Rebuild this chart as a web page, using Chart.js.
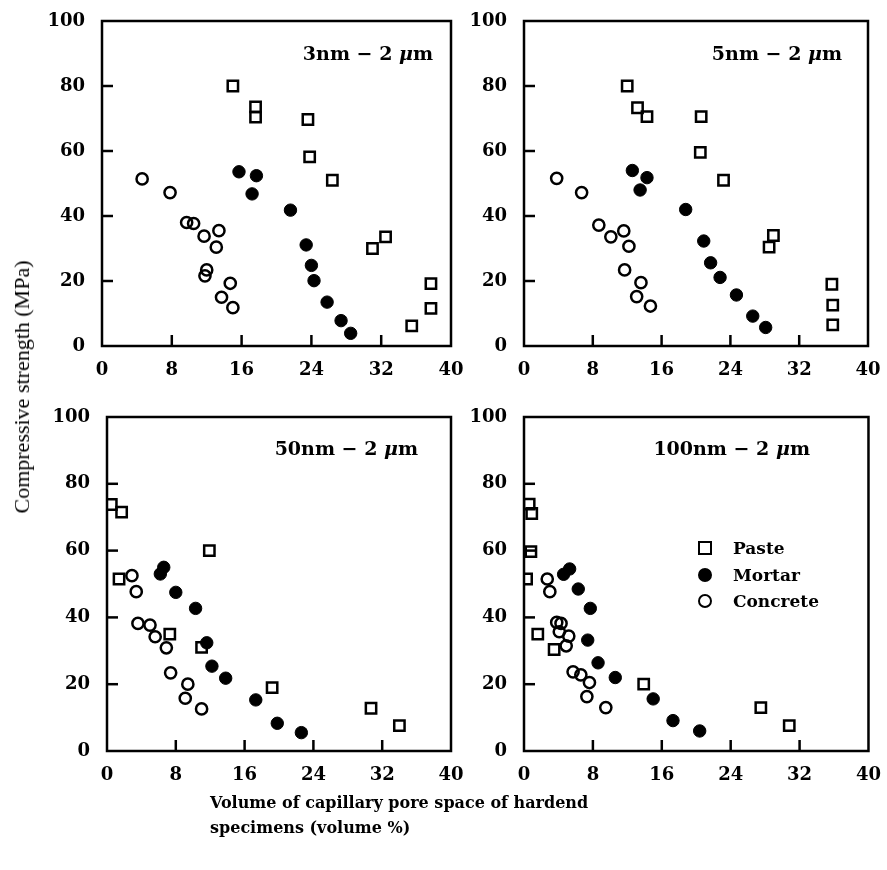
<!DOCTYPE html>
<html>
<head>
<meta charset="utf-8">
<script src="https://cdn.jsdelivr.net/npm/chart.js@4.4.0/dist/chart.umd.min.js"></script>
<style>
  body { margin: 0; background: #fff; }
  #wrap { position: relative; width: 887px; height: 870px; background: #fff; overflow: hidden; }
  canvas { position: absolute; }
  .ttl { position: absolute; font-family: "DejaVu Serif", serif; font-weight: bold; font-size: 19px; color: #000; white-space: nowrap; text-align: right; line-height: 20px; }
  .ttl i { font-style: italic; }
  #ytitle { position: absolute; left: 22px; top: 387px; transform: translate(-50%, -50%) rotate(-90deg); font-family: "Liberation Serif", serif; font-size: 22px; white-space: nowrap; color: #000; }
  #xtitle { position: absolute; left: 210px; top: 790px; font-family: "DejaVu Serif", serif; font-weight: bold; font-size: 16px; line-height: 25px; color: #000; }
  #legend { position: absolute; left: 696px; top: 535px; font-family: "DejaVu Serif", serif; font-weight: bold; font-size: 17px; color: #000; }
  #legend div { height: 26.5px; line-height: 26px; position: relative; padding-left: 37px; }
  #legend span.m { position: absolute; left: 2px; top: 6px; width: 10px; height: 10px; border: 2.5px solid #000; }
  #legend span.m.c { border-radius: 50%; }
  #legend span.m.f { background: #000; }
</style>
</head>
<body>
<div id="wrap">
  <canvas id="c1" width="470" height="400" style="left:0;top:0"></canvas>
  <canvas id="c2" width="420" height="400" style="left:470px;top:0"></canvas>
  <canvas id="c3" width="470" height="400" style="left:0;top:396px"></canvas>
  <canvas id="c4" width="417" height="400" style="left:470px;top:396px"></canvas>
  <div class="ttl" style="left:233px;top:43px;width:200px">3nm − 2 <i>μ</i>m</div>
  <div class="ttl" style="left:642px;top:43px;width:200px">5nm − 2 <i>μ</i>m</div>
  <div class="ttl" style="left:218px;top:438px;width:200px">50nm − 2 <i>μ</i>m</div>
  <div class="ttl" style="left:610px;top:438px;width:200px">100nm − 2 <i>μ</i>m</div>
  <div id="ytitle">Compressive strength (MPa)</div>
  <div id="xtitle">Volume of capillary pore space of hardend<br>specimens (volume %)</div>
  <div id="legend"></div>
</div>
<script>
// tick labels
var xTicks = [0, 8, 16, 24, 32, 40];
var yTicks = [0, 20, 40, 60, 80, 100];
var seriesNames = ['Paste', 'Mortar', 'Concrete'];

// 3nm - 2um  [pore volume %, strength MPa]
var paste3 = [[15,80],[17.6,73.6],[17.6,70.4],[23.6,69.7],[23.8,58.2],[26.4,51],[31,30],[32.5,33.6],[35.5,6.2],[37.7,19.2],[37.7,11.6]];
var mortar3 = [[15.7,53.6],[17.7,52.4],[17.2,46.8],[21.6,41.8],[23.4,31.1],[24,24.8],[24.3,20.1],[25.8,13.5],[27.4,7.8],[28.5,3.9]];
var concrete3 = [[4.6,51.4],[7.8,47.2],[9.7,38],[10.5,37.7],[11.7,33.8],[13.4,35.5],[13.1,30.4],[12,23.4],[11.8,21.6],[14.7,19.3],[13.7,15],[15,11.8]];

// 5nm - 2um
var paste5 = [[12,80],[13.2,73.3],[14.3,70.6],[20.6,70.6],[20.5,59.6],[23.2,51],[28.5,30.4],[29,34],[35.8,19],[35.9,12.6],[35.9,6.5]];
var mortar5 = [[12.6,54],[14.3,51.8],[13.5,48],[18.8,42],[20.9,32.3],[21.7,25.6],[22.8,21.1],[24.7,15.7],[26.6,9.2],[28.1,5.7]];
var concrete5 = [[3.8,51.6],[6.7,47.2],[8.7,37.2],[10.1,33.6],[11.6,35.4],[12.2,30.7],[11.7,23.4],[13.6,19.5],[13.1,15.2],[14.7,12.3]];

// 50nm - 2um
var paste50 = [[0.5,73.8],[1.7,71.5],[11.9,60],[1.4,51.5],[7.3,35],[11,31],[19.2,19],[30.7,12.8],[34,7.6]];
var mortar50 = [[6.6,55],[6.2,53],[8,47.5],[10.3,42.7],[11.6,32.4],[12.2,25.4],[13.8,21.8],[17.3,15.3],[19.8,8.3],[22.6,5.5]];
var concrete50 = [[2.9,52.5],[3.4,47.7],[3.6,38.2],[5,37.7],[5.6,34.2],[6.9,30.9],[7.4,23.4],[9.4,20],[9.1,15.8],[11,12.6]];

// 100nm - 2um
var paste100 = [[0.6,73.9],[0.9,71.1],[0.8,59.7],[0.3,51.5],[1.6,35],[3.5,30.4],[13.9,20],[27.5,13],[30.8,7.6]];
var mortar100 = [[4.6,52.9],[5.3,54.5],[6.3,48.5],[7.7,42.7],[7.4,33.2],[8.6,26.4],[10.6,22],[15,15.6],[17.3,9.1],[20.4,6]];
var concrete100 = [[2.7,51.5],[3,47.7],[3.8,38.5],[4.3,38.2],[4.1,35.7],[5.2,34.4],[4.9,31.5],[5.7,23.7],[6.6,22.8],[7.6,20.5],[7.3,16.3],[9.5,13]];

var tickFont = { family: 'DejaVu Serif', size: 18, weight: 'bold' };

// caixa e marcas de escala para dentro
var framePlugin = {
  id: 'frame',
  afterDraw: function (chart) {
    var ctx = chart.ctx, a = chart.chartArea;
    var sx = chart.scales.x, sy = chart.scales.y;
    ctx.save();
    ctx.strokeStyle = '#000';
    ctx.lineWidth = 2.5;
    ctx.strokeRect(a.left, a.top, a.right - a.left, a.bottom - a.top);
    sx.ticks.forEach(function (t) {
      if (t.value <= sx.min || t.value >= sx.max) return;
      var px = sx.getPixelForValue(t.value);
      ctx.beginPath(); ctx.moveTo(px, a.bottom); ctx.lineTo(px, a.bottom - 11); ctx.stroke();
    });
    sy.ticks.forEach(function (t) {
      if (t.value <= sy.min || t.value >= sy.max) return;
      var py = sy.getPixelForValue(t.value);
      ctx.beginPath(); ctx.moveTo(a.left, py); ctx.lineTo(a.left + 11, py); ctx.stroke();
    });
    ctx.restore();
  }
};

function pts(arr) {
  return arr.map(function (p) { return { x: p[0], y: p[1] }; });
}

function desenharPainel(id, paste, mortar, concrete, box) {
  // box: area do grafico dentro do canvas
  var cv = document.getElementById(id);
  new Chart(cv, {
    type: 'scatter',
    data: {
      datasets: [
        { label: seriesNames[0], data: pts(paste), pointStyle: 'rect', pointRadius: 7.3, borderWidth: 2.5, borderColor: '#000', backgroundColor: 'rgba(0,0,0,0)' },
        { label: seriesNames[1], data: pts(mortar), pointStyle: 'circle', pointRadius: 6.2, borderWidth: 1, borderColor: '#000', backgroundColor: '#000' },
        { label: seriesNames[2], data: pts(concrete), pointStyle: 'circle', pointRadius: 5.6, borderWidth: 2.5, borderColor: '#000', backgroundColor: 'rgba(0,0,0,0)' }
      ]
    },
    options: {
      responsive: false,
      animation: false,
      events: [],
      layout: { padding: { top: box.top, right: cv.width - box.right, left: 0, bottom: 0 } },
      plugins: { legend: { display: false }, tooltip: { enabled: false } },
      scales: {
        x: {
          type: 'linear', min: xTicks[0], max: xTicks[xTicks.length - 1],
          afterBuildTicks: function (s) { s.ticks = xTicks.map(function (v) { return { value: v }; }); },
          ticks: { font: tickFont, color: '#000', padding: 6, autoSkip: false, maxRotation: 0 },
          grid: { display: false },
          border: { display: false },
          afterFit: function (s) { s.height = cv.height - box.bottom; }
        },
        y: {
          type: 'linear', min: yTicks[0], max: yTicks[yTicks.length - 1],
          afterBuildTicks: function (s) { s.ticks = yTicks.map(function (v) { return { value: v }; }); },
          ticks: { font: tickFont, color: '#000', padding: 9 },
          grid: { display: false },
          border: { display: false },
          afterFit: function (s) { s.width = box.left; }
        }
      }
    },
    plugins: [framePlugin]
  });
}

desenharPainel('c1', paste3, mortar3, concrete3, { left: 102, right: 451, top: 21, bottom: 346 });
desenharPainel('c2', paste5, mortar5, concrete5, { left: 54, right: 398, top: 21, bottom: 346 });
desenharPainel('c3', paste50, mortar50, concrete50, { left: 107, right: 451, top: 21, bottom: 355 });
desenharPainel('c4', paste100, mortar100, concrete100, { left: 54, right: 401, top: 21, bottom: 355 });

// legenda
var legend = document.getElementById('legend');
var markerClass = ['m', 'm c f', 'm c'];
seriesNames.forEach(function (n, i) {
  var d = document.createElement('div');
  d.innerHTML = '<span class="' + markerClass[i] + '"></span>' + n;
  legend.appendChild(d);
});
</script>
</body>
</html>
